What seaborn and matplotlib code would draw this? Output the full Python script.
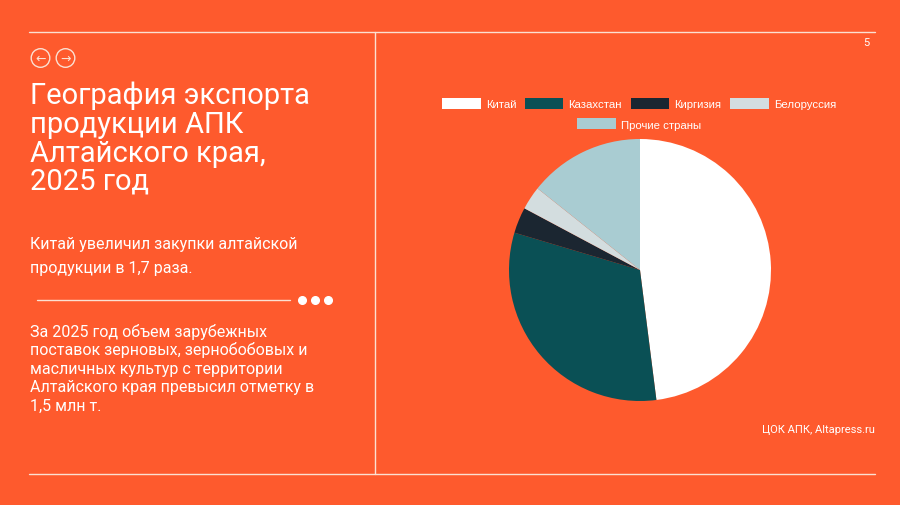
import matplotlib
matplotlib.use('Agg')
import matplotlib.pyplot as plt
import seaborn as sns
from matplotlib.lines import Line2D
from matplotlib.patches import Ellipse, Patch

# данные: доля стран в экспорте АПК, %
countries = ['Китай', 'Казахстан', 'Киргизия', 'Белоруссия', 'Прочие страны']
shares = [48.0, 31.6, 3.2, 2.9, 14.3]
colors = ['#FFFFFF', '#0A5055', '#1B2631', '#D3DDDF', '#A9CCD2']

title_lines = ['География экспорта', 'продукции АПК', 'Алтайского края,', '2025 год']
lead_lines = ['Китай увеличил закупки алтайской', 'продукции в 1,7 раза.']
body_lines = ['За 2025 год объем зарубежных',
              'поставок зерновых, зернобобовых и',
              'масличных культур с территории',
              'Алтайского края превысил отметку в',
              '1,5 млн т.']
source = 'ЦОК АПК, Altapress.ru'
page = '5'

BG = '#FE5A2D'
LINE = '#FBE0D2'
W, H = 900, 506

sns.set_theme(style='white')
plt.rcParams['font.family'] = ['Roboto', 'DejaVu Sans']

fig = plt.figure(figsize=(9, 5.06), dpi=100, facecolor=BG)


def fx(x):
    return x / W


def fy(y):
    return 1 - y / H


def hline(x0, x1, y, lw=1.0):
    fig.add_artist(Line2D([fx(x0), fx(x1)], [fy(y), fy(y)], color=LINE, lw=lw,
                          transform=fig.transFigure))


# рамка слайда
hline(29, 875, 33)
hline(29, 875, 475)
fig.add_artist(Line2D([fx(375), fx(375)], [fy(33), fy(475)], color=LINE, lw=1.0,
                      transform=fig.transFigure))

# кнопки навигации
for cx, arrow in [(40.5, '←'), (65.5, '→')]:
    fig.add_artist(Ellipse((fx(cx), fy(59)), 2 * 9.3 / W, 2 * 9.3 / H, fill=False,
                           ec=LINE, lw=1.0, transform=fig.transFigure))
    fig.text(fx(cx), fy(59.5), arrow, color=LINE, fontsize=9, ha='center', va='center',
             family=['DejaVu Sans'])

# заголовок
for i, t in enumerate(title_lines):
    fig.text(fx(30), fy(104.5 + i * 28.5), t, color='white', fontsize=21, va='baseline')

for i, t in enumerate(lead_lines):
    fig.text(fx(30), fy(249 + i * 24.3), t, color='white', fontsize=11.5, va='baseline')

# разделитель с точками
hline(37, 290, 301)
fig.add_artist(Line2D([fx(302), fx(315), fx(328)], [fy(301)] * 3, ls='none', marker='o',
                      ms=5.5, mfc='white', mec='white', transform=fig.transFigure))

for i, t in enumerate(body_lines):
    fig.text(fx(30), fy(337 + i * 18.5), t, color='white', fontsize=11.5, va='baseline')

fig.text(fx(875), fy(433), source, color='white', fontsize=8.0, ha='right', va='baseline')
fig.text(fx(866), fy(46), page, color='white', fontsize=8, ha='center', va='baseline')

# круговая диаграмма
r = 131
ax = fig.add_axes([fx(640 - r), fy(271 + r), 2 * r / W, 2 * r / H])
ax.set_facecolor(BG)
wedges, _ = ax.pie(shares, colors=colors, startangle=90, counterclock=False,
                   wedgeprops=dict(linewidth=0))
ax.set_xlim(-1, 1)
ax.set_ylim(-1, 1)
ax.set_aspect('equal')
ax.axis('off')

# легенда в две строки
handles = [Patch(facecolor=c, edgecolor='none') for c in colors]
leg_kw = dict(frameon=False, handlelength=3.4, handleheight=1.1,
              handletextpad=0.45, columnspacing=0.75, labelcolor='white',
              prop={'family': ['Liberation Sans', 'DejaVu Sans'], 'size': 8.2})
fig.legend(handles[:4], countries[:4], ncol=4, loc='center',
           bbox_to_anchor=(fx(639), fy(104.5)), **leg_kw)
fig.legend(handles[4:], countries[4:], ncol=1, loc='center',
           bbox_to_anchor=(fx(639), fy(125)), **leg_kw)

fig.savefig('out.png', dpi=100, facecolor=BG)
